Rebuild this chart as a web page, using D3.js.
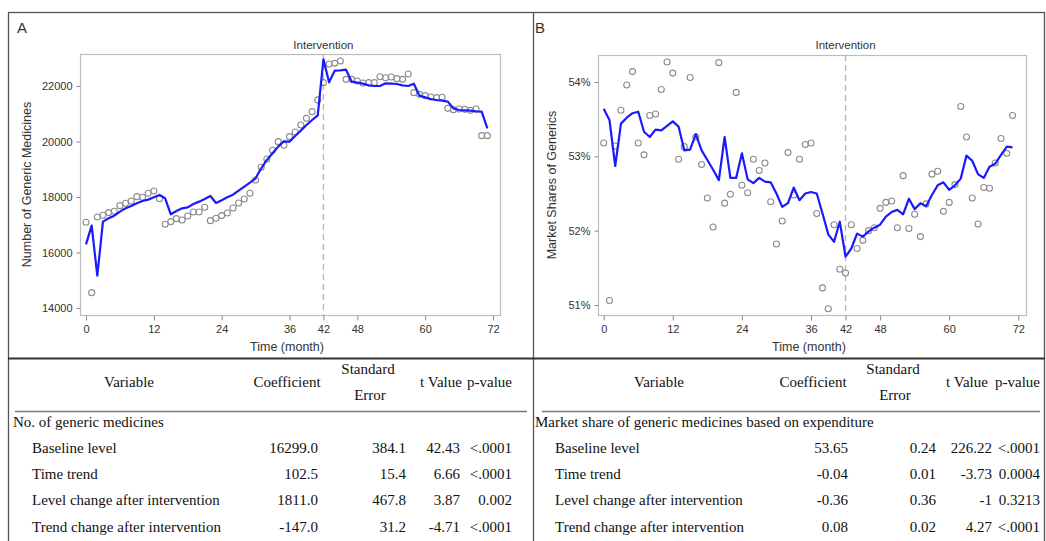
<!DOCTYPE html>
<html>
  <head>
    <meta charset="UTF-8">
    <title>Interrupted time series</title>
    <script src="https://d3js.org/d3.v7.min.js"></script>
    <style>
      body { margin: 0; background: #fff; }
      .tick text { font: 11px "Liberation Sans", Arial, sans-serif; fill: #333; }
      .axis path, .axis line { stroke: #8a8a8a; }
      .frame { fill: none; stroke: #b9bec4; stroke-width: 1.2px; }
      .obs { fill: none; stroke: #8c8c8c; stroke-width: 1.1px; }
      .fit { fill: none; stroke: #1a1aff; stroke-width: 2.2px; stroke-linejoin: round; }
      .interv { stroke: #b8b8b8; stroke-width: 1.4px; stroke-dasharray: 6,4; }
      .lab { font: 12.5px "Liberation Sans", Arial, sans-serif; fill: #333; }
      .tbl { font: 15px "Liberation Serif", "Times New Roman", serif; fill: #111; }
    </style>
  </head>
  <body>
    <svg width="1046" height="541"></svg>

    <script>
      // months 0..71
      const months = d3.range(72);
      const monthTicks = [0, 12, 24, 36, 42, 48, 60, 72];
      const interventionMonth = 42;

      // panel A: number of generic medicines
      const countObserved = [
        17088, 14554, 17280, 17340, 17437, 17485, 17689, 17773, 17857, 18013,
        17989, 18133, 18217, 17941, 17016, 17112, 17220, 17172, 17317, 17461,
        17461, 17629, 17148, 17232, 17329, 17425, 17605, 17785, 17929, 18133,
        18614, 19070, 19370, 19683, 19995, 19863, 20175, 20343, 20595, 20836,
        21076, 21500, 22120, 22793, 22817, 22901, 22240, 22240, 22180, 22108,
        22120, 22120, 22336, 22300, 22324, 22264, 22240, 22432, 21760, 21700,
        21652, 21604, 21580, 21592, 21195, 21147, 21171, 21159, 21123, 21171,
        20210, 20210
      ];
      const countFitted = [
        16295, 16968, 15166, 17112, 17232, 17328, 17472, 17592, 17676, 17772,
        17857, 17905, 17989, 18073, 17953, 17376, 17496, 17592, 17628, 17748,
        17833, 17929, 18037, 17784, 17881, 17989, 18085, 18229, 18373, 18517,
        18673, 19034, 19334, 19574, 19814, 20006, 19994, 20198, 20391, 20595,
        20775, 20943, 22961, 22132, 22553, 22564, 22588, 22156, 22120, 22084,
        22024, 22000, 22000, 22096, 22084, 22072, 22024, 22000, 22084, 21652,
        21592, 21532, 21496, 21472, 21436, 21195, 21135, 21123, 21111, 21087,
        21075, 20475
      ];
      const countTicks = [14000, 16000, 18000, 20000, 22000];

      // panel B: market share (%)
      const shareObserved = [
        53.18, 51.06, 53.14, 53.62, 53.96, 54.14, 53.18, 53.02, 53.55, 53.57,
        53.90, 54.27, 54.12, 52.96, 53.13, 54.06, 53.26, 52.89, 52.44, 52.05,
        54.26, 52.37, 52.49, 53.86, 52.61, 52.51, 52.96, 52.81, 52.91, 52.39,
        51.82, 52.13, 53.05, 52.48, 52.96, 53.16, 53.18, 52.23, 51.23, 50.95,
        52.08, 51.48, 51.43, 52.08, 51.76, 51.87, 52.00, 52.04, 52.30, 52.38,
        52.40, 52.04, 52.74, 52.03, 52.22, 51.92, 52.36, 52.76, 52.80, 52.26,
        52.38, 52.62, 53.67, 53.26, 52.44, 52.09, 52.58, 52.57, 52.91, 53.24,
        53.04, 53.55
      ];
      const shareFitted = [
        53.64, 53.49, 52.87, 53.44, 53.52, 53.58, 53.60, 53.33, 53.26, 53.36,
        53.35, 53.41, 53.47, 53.40, 53.08, 53.09, 53.30, 53.08, 52.95, 52.82,
        52.68, 53.26, 52.71, 52.71, 53.04, 52.69, 52.64, 52.71, 52.66, 52.65,
        52.50, 52.32, 52.37, 52.58, 52.41, 52.50, 52.52, 52.50, 52.23, 51.95,
        51.85, 52.12, 51.65, 51.76, 51.96, 51.92, 51.99, 52.04, 52.08, 52.19,
        52.25, 52.28, 52.22, 52.43, 52.29, 52.37, 52.33, 52.48, 52.61, 52.65,
        52.55, 52.61, 52.70, 53.01, 52.94, 52.76, 52.71, 52.86, 52.90, 53.02,
        53.13, 53.12
      ];
      const shareTicks = [51, 52, 53, 54];

      // regression tables
      const tableHeader = ["Variable", "Coefficient", "Standard|Error", "t Value", "p-value"];
      const rowLabels = [
        "Baseline level",
        "Time trend",
        "Level change after intervention",
        "Trend change after intervention"
      ];
      const countGroup = "No. of generic medicines";
      const countRows = [
        ["16299.0", "384.1", "42.43", "<.0001"],
        ["102.5", "15.4", "6.66", "<.0001"],
        ["1811.0", "467.8", "3.87", "0.002"],
        ["-147.0", "31.2", "-4.71", "<.0001"]
      ];
      const shareGroup = "Market share of generic medicines based on expenditure";
      const shareRows = [
        ["53.65", "0.24", "226.22", "<.0001"],
        ["-0.04", "0.01", "-3.73", "0.0004"],
        ["-0.36", "0.36", "-1", "0.3213"],
        ["0.08", "0.02", "4.27", "<.0001"]
      ];

      const svg = d3.select("svg");

      // outer frames
      svg.append("rect").attr("x", 8.5).attr("y", 12.5).attr("width", 1036).attr("height", 540)
        .attr("fill", "none").attr("stroke", "#555").attr("stroke-width", 1.3);
      svg.append("line").attr("x1", 533.5).attr("x2", 533.5).attr("y1", 12).attr("y2", 541)
        .attr("stroke", "#555").attr("stroke-width", 1.3);
      svg.append("line").attr("x1", 8).attr("x2", 1045).attr("y1", 358.5).attr("y2", 358.5)
        .attr("stroke", "#333").attr("stroke-width", 2);

      function drawPanel(opt) {
        const g = svg.append("g");
        const x = d3.scaleLinear().domain([0, 72]).range(opt.xRange);
        const y = d3.scaleLinear().domain(opt.yDomain).range(opt.yRange);

        g.append("text").attr("class", "lab").attr("x", opt.frame[0] - 63).attr("y", 33)
          .style("font-size", "15px").text(opt.letter);

        g.append("rect").attr("class", "frame")
          .attr("x", opt.frame[0] + 0.5).attr("y", opt.frame[1] + 0.5)
          .attr("width", opt.frame[2] - opt.frame[0]).attr("height", opt.frame[3] - opt.frame[1]);

        const xAxis = g.append("g").attr("class", "axis")
          .attr("transform", `translate(0,${opt.frame[3] + 0.5})`)
          .call(d3.axisBottom(x).tickValues(monthTicks).tickSize(5).tickPadding(5));
        xAxis.select(".domain").remove();

        const yAxis = g.append("g").attr("class", "axis")
          .attr("transform", `translate(${opt.frame[0] + 0.5},0)`)
          .call(d3.axisLeft(y).tickValues(opt.yTicks).tickSize(4).tickPadding(4).tickFormat(opt.fmt));
        yAxis.select(".domain").remove();

        g.append("line").attr("class", "interv")
          .attr("x1", x(interventionMonth)).attr("x2", x(interventionMonth))
          .attr("y1", opt.frame[1]).attr("y2", opt.frame[3]);
        g.append("text").attr("class", "lab").attr("x", x(interventionMonth)).attr("y", 49)
          .attr("text-anchor", "middle").style("font-size", "11.5px").text("Intervention");

        g.selectAll(".obs").data(opt.observed).enter().append("circle")
          .attr("class", "obs").attr("r", 3)
          .attr("cx", (d, i) => x(months[i])).attr("cy", d => y(d));

        g.append("path").attr("class", "fit").datum(opt.fitted)
          .attr("d", d3.line().x((d, i) => x(months[i])).y(d => y(d)));

        g.append("text").attr("class", "lab")
          .attr("x", (opt.frame[0] + opt.frame[2]) / 2 - 3).attr("y", 351)
          .attr("text-anchor", "middle").text("Time (month)");

        g.append("text").attr("class", "lab")
          .attr("transform", `translate(${opt.yTitleX},${(opt.frame[1] + opt.frame[3]) / 2}) rotate(-90)`)
          .attr("text-anchor", "middle").style("font-size", "12.5px").text(opt.yTitle);
      }

      drawPanel({
        letter: "A",
        frame: [80, 54, 500, 315],
        xRange: [86, 493],
        yDomain: [14000, 22000],
        yRange: [308, 86],
        yTicks: countTicks,
        fmt: d3.format("d"),
        observed: countObserved,
        fitted: countFitted,
        yTitle: "Number of Generic Medicines",
        yTitleX: 31
      });

      drawPanel({
        letter: "B",
        frame: [598, 55, 1026, 315],
        xRange: [603.7, 1018.3],
        yDomain: [51, 54],
        yRange: [305, 82],
        yTicks: shareTicks,
        fmt: d => d + "%",
        observed: shareObserved,
        fitted: shareFitted,
        yTitle: "Market Shares of Generics",
        yTitleX: 556
      });

      // tables
      function drawTable(opt) {
        const g = svg.append("g").attr("class", "tbl");
        const pos = opt.headPos;
        tableHeader.forEach((h, i) => {
          const parts = h.split("|");
          const anchor = i === tableHeader.length - 1 ? "end" : "middle";
          if (parts.length === 2) {
            g.append("text").attr("x", pos[i]).attr("y", 374).attr("text-anchor", anchor).text(parts[0]);
            g.append("text").attr("x", pos[i] + 2).attr("y", 400).attr("text-anchor", anchor).text(parts[1]);
          } else {
            g.append("text").attr("x", pos[i]).attr("y", 387).attr("text-anchor", anchor).text(h);
          }
        });
        g.append("line").attr("x1", opt.rule[0]).attr("x2", opt.rule[1]).attr("y1", 411.5).attr("y2", 411.5)
          .attr("stroke", "#777").attr("stroke-width", 1.6);
        g.append("text").attr("x", opt.groupX).attr("y", 427).text(opt.group);
        rowLabels.forEach((lab, r) => {
          const yy = 453 + r * 26.2;
          g.append("text").attr("x", opt.labelX).attr("y", yy).text(lab);
          opt.rows[r].forEach((v, c) => {
            g.append("text").attr("x", opt.rightEdges[c]).attr("y", yy).attr("text-anchor", "end").text(v);
          });
        });
      }

      drawTable({
        headPos: [129, 287, 368, 441, 512],
        rightEdges: [318, 406, 460, 512],
        rule: [15, 527],
        groupX: 13,
        labelX: 32,
        group: countGroup,
        rows: countRows
      });

      drawTable({
        headPos: [659, 813, 893, 967, 1040],
        rightEdges: [848, 936, 992, 1040],
        rule: [542, 1040],
        groupX: 535,
        labelX: 555,
        group: shareGroup,
        rows: shareRows
      });
    </script>
  </body>
</html>
